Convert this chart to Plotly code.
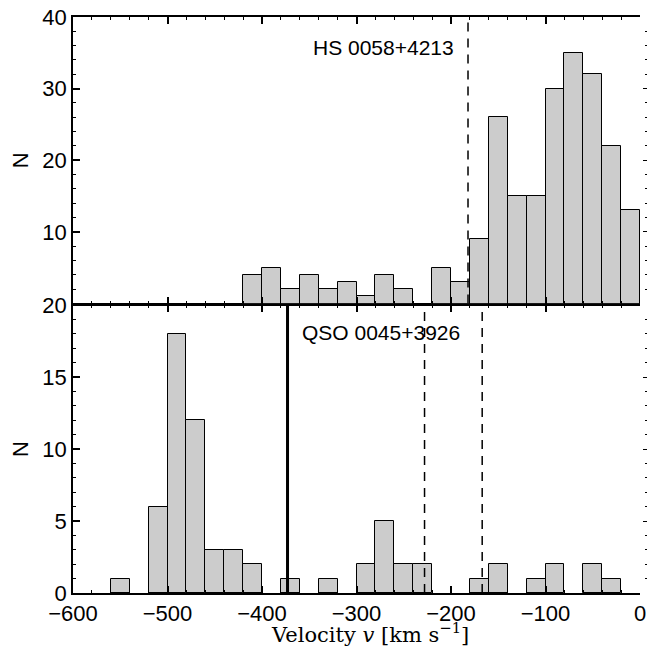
import plotly.graph_objects as go

# ---- data ----
bin_width = 20
top_bin_starts = [-420, -400, -380, -360, -340, -320, -300, -280, -260, -240,
                  -220, -200, -180, -160, -140, -120, -100, -80, -60, -40, -20]
top_counts = [4, 5, 2, 4, 2, 3, 1, 4, 2, 0,
              5, 3, 9, 26, 15, 15, 30, 35, 32, 22, 13]

bot_bin_starts = [-560, -520, -500, -480, -460, -440, -420, -380, -340, -300,
                  -280, -260, -240, -180, -160, -120, -100, -60, -40]
bot_counts = [1, 6, 18, 12, 3, 3, 2, 1, 1, 2,
              5, 2, 2, 1, 2, 1, 2, 2, 1]

top_label = "HS 0058+4213"
bot_label = "QSO 0045+3926"
top_dashed = [-182]
bot_solid = [-373]
bot_dashed = [-228, -167]

x_range = [-600, 0]
top_y_range = [0, 40]
bot_y_range = [0, 20]
x_title = "Velocity <i>v</i> [km s<sup>−1</sup>]"
y_title = "N"

# ---- figure ----
W, H = 647, 648
L, R, T, B = 73, 0, 17, 55
plot_w = W - L - R
plot_h = H - T - B
xdom_end = (640 - L) / plot_w
lw = 1.5
gap = lw / plot_h  # so the two shared boundary lines coincide

sans = "Liberation Sans, Arial, sans-serif"
serif = "DejaVu Serif, Liberation Serif, serif"

fig = go.Figure()
bar_style = dict(marker=dict(color="#cccccc", line=dict(color="black", width=1)),
                 width=bin_width, showlegend=False, hoverinfo="skip")
fig.add_trace(go.Bar(x=[s + bin_width / 2 for s in bot_bin_starts], y=bot_counts,
                     xaxis="x", yaxis="y", **bar_style))
fig.add_trace(go.Bar(x=[s + bin_width / 2 for s in top_bin_starts], y=top_counts,
                     xaxis="x2", yaxis="y2", **bar_style))
# dummy traces so the right-hand tick axes are drawn
fig.add_trace(go.Scatter(x=[None], y=[None], xaxis="x", yaxis="y3", showlegend=False, hoverinfo="skip"))
fig.add_trace(go.Scatter(x=[None], y=[None], xaxis="x2", yaxis="y4", showlegend=False, hoverinfo="skip"))

common_x = dict(range=x_range, domain=[0, xdom_end], showline=True, linecolor="black",
                linewidth=lw, ticks="inside", ticklen=7, tickwidth=lw, tickcolor="black",
                dtick=100, tick0=0, mirror="ticks", showgrid=False, zeroline=False,
                automargin=False,
                minor=dict(ticks="inside", ticklen=3, dtick=20, tickwidth=1, tickcolor="black",
                           showgrid=False),
                tickfont=dict(family=sans, size=22, color="black"))
common_y = dict(showline=True, linecolor="black", linewidth=lw, ticks="inside", ticklen=7,
                tickwidth=lw, tickcolor="black", showgrid=False, zeroline=False,
                automargin=False,
                tickfont=dict(family=sans, size=22, color="black"),
                title=dict(text=y_title, font=dict(family=sans, size=22, color="black"), standoff=8))
right_y = dict(anchor="free", position=1.0, side="right", showline=False, ticks="inside",
               ticklen=4, tickwidth=1.2, tickcolor="black", showticklabels=False,
               showgrid=False, zeroline=False, automargin=False)

fig.update_layout(
    width=W, height=H, margin=dict(l=L, r=R, t=T, b=B, pad=0, autoexpand=False),
    plot_bgcolor="white", paper_bgcolor="white", bargap=0,
    xaxis=dict(anchor="y", **common_x),
    xaxis2=dict(anchor="y2", matches="x", showticklabels=False, **common_x),
    yaxis=dict(anchor="x", domain=[0, 0.5], range=bot_y_range, dtick=5,
               minor=dict(ticks="inside", ticklen=3, dtick=1, tickwidth=1, tickcolor="black"),
               **common_y),
    yaxis2=dict(anchor="x2", domain=[0.5 + gap, 1], range=top_y_range, tickvals=[10, 20, 30, 40],
                minor=dict(ticks="inside", ticklen=3, dtick=2, tickwidth=1, tickcolor="black"),
                **common_y),
    yaxis3=dict(overlaying="y", range=bot_y_range, dtick=5,
                minor=dict(ticks="inside", ticklen=2, dtick=1, tickwidth=1, tickcolor="black"),
                **right_y),
    yaxis4=dict(overlaying="y2", range=top_y_range, dtick=10,
                minor=dict(ticks="inside", ticklen=2, dtick=2, tickwidth=1, tickcolor="black"),
                **right_y),
)

for v in top_dashed:
    fig.add_shape(type="line", xref="x2", yref="y2 domain", x0=v, x1=v, y0=0, y1=1,
                  line=dict(color="black", width=1.5, dash="9px,7px"))
for v in bot_dashed:
    fig.add_shape(type="line", xref="x", yref="y domain", x0=v, x1=v, y0=0, y1=1,
                  line=dict(color="black", width=1.5, dash="9px,7px"))
for v in bot_solid:
    fig.add_shape(type="line", xref="x", yref="y domain", x0=v, x1=v, y0=0, y1=1,
                  line=dict(color="black", width=3))

fig.add_annotation(text=top_label, xref="x2", yref="y2 domain", x=-195, y=0.893,
                   xanchor="right", yanchor="middle", showarrow=False,
                   font=dict(family=sans, size=21, color="black"))
fig.add_annotation(text=bot_label, xref="x", yref="y domain", x=-360, y=0.904,
                   xanchor="left", yanchor="middle", showarrow=False,
                   font=dict(family=sans, size=21, color="black"))
fig.add_annotation(text=x_title, xref="paper", yref="paper",
                   x=(370 - L) / plot_w, y=(H - B - 633) / plot_h,
                   xanchor="center", yanchor="middle", showarrow=False,
                   font=dict(family=serif, size=21, color="black"))

fig.write_html("out.html")
